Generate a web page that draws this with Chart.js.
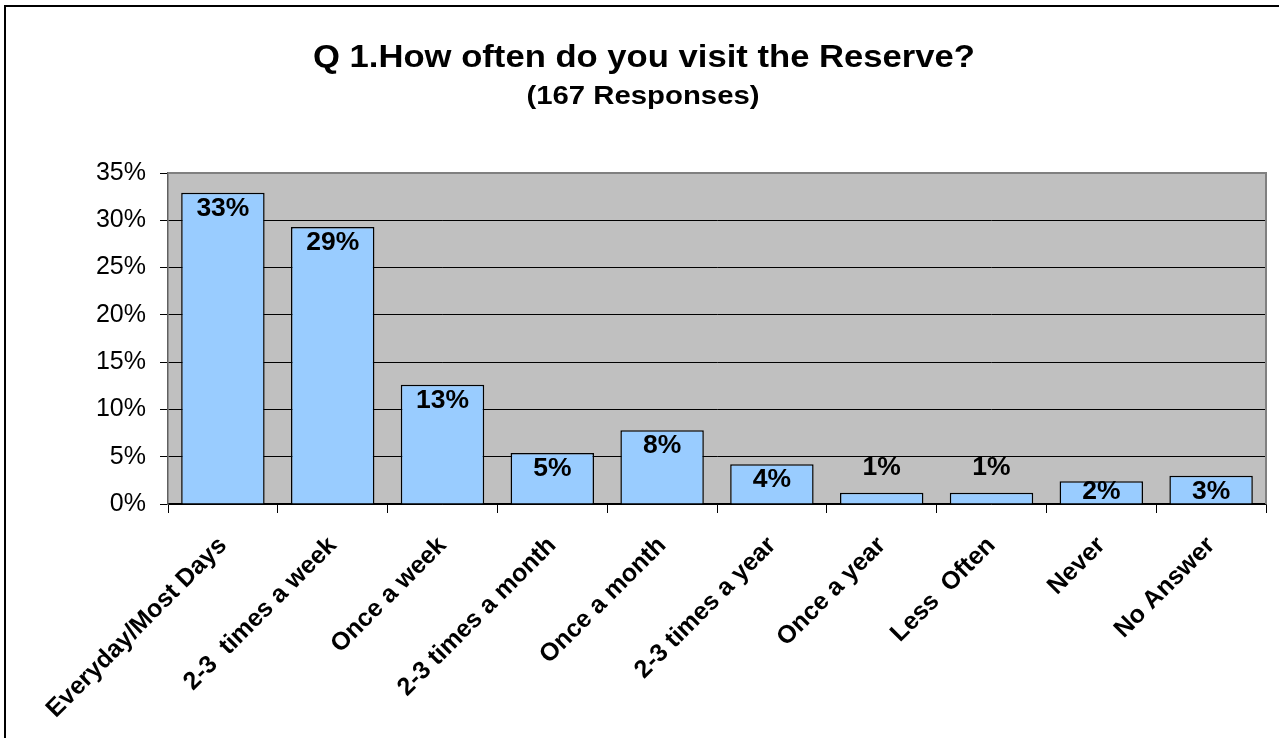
<!DOCTYPE html>
<html>
<head>
<meta charset="utf-8">
<script src="https://cdn.jsdelivr.net/npm/chart.js@4/dist/chart.umd.min.js"></script>
<style>
  html, body { margin: 0; padding: 0; background: #fff; }
</style>
</head>
<body>
<canvas id="c" width="1279" height="738"></canvas>
<script>
const titleText = "Q 1.How often do you visit the Reserve?";
const subtitleText = "(167 Responses)";
const categories = ["Everyday/Most Days", "2-3  times a week", "Once a week", "2-3 times a month", "Once a month", "2-3 times a year", "Once a year", "Less  Often", "Never", "No Answer"];
const percentages = [32.9, 29.3, 12.6, 5.4, 7.8, 4.2, 1.2, 1.2, 2.4, 3.0];
const yTicks = [0, 5, 10, 15, 20, 25, 30, 35];

const frame = {
  id: 'frame',
  beforeDraw(chart) {
    const ctx = chart.ctx, a = chart.chartArea;
    ctx.save();
    ctx.fillStyle = '#fff';
    ctx.fillRect(0, 0, chart.width, chart.height);
    ctx.fillStyle = '#C0C0C0';
    ctx.fillRect(a.left, a.top, a.right - a.left, a.bottom - a.top);
    ctx.restore();
  },
  afterDraw(chart) {
    const ctx = chart.ctx, a = chart.chartArea;
    ctx.save();
    ctx.strokeStyle = '#000';
    ctx.lineWidth = 2;
    ctx.strokeRect(5, 6, 1400, 1000);
    ctx.strokeStyle = '#808080';
    ctx.lineWidth = 2;
    ctx.beginPath();
    ctx.moveTo(a.left, a.top);
    ctx.lineTo(a.right, a.top);
    ctx.lineTo(a.right, a.bottom);
    ctx.stroke();
    ctx.fillStyle = '#000';
    ctx.textAlign = 'center';
    ctx.textBaseline = 'middle';
    const drawFit = (txt, font, cx, cy, w) => {
      ctx.font = font;
      const m = ctx.measureText(txt).width;
      ctx.save();
      ctx.translate(cx, cy);
      ctx.scale(w / m, 1);
      ctx.fillText(txt, 0, 0);
      ctx.restore();
    };
    drawFit(titleText, 'bold 31px "Liberation Sans", Arial, sans-serif', 644, 58, 662);
    drawFit(subtitleText, 'bold 25px "Liberation Sans", Arial, sans-serif', 643, 97, 233);
    ctx.restore();
  }
};

const labels = {
  id: 'labels',
  afterDatasetsDraw(chart) {
    const ctx = chart.ctx;
    const meta = chart.getDatasetMeta(0);
    ctx.save();
    ctx.fillStyle = '#000';
    ctx.font = 'bold 25px "Liberation Sans", Arial, sans-serif';
    ctx.textAlign = 'center';
    ctx.textBaseline = 'middle';
    meta.data.forEach((bar, i) => {
      const v = percentages[i];
      const txt = Math.round(v) + '%';
      const h = bar.base - bar.y;
      let y;
      if (h < 16) y = bar.y - 25;
      else y = Math.min(bar.y + 16, bar.base - 11);
      ctx.save();
      ctx.translate(bar.x, y);
      ctx.scale(1.06, 1);
      ctx.fillText(txt, 0, 0);
      ctx.restore();
    });
    ctx.restore();
  }
};

new Chart(document.getElementById('c'), {
  type: 'bar',
  data: {
    labels: categories,
    datasets: [{
      data: percentages,
      backgroundColor: '#99CCFF',
      borderColor: '#000',
      borderWidth: 1.5,
      categoryPercentage: 1,
      barPercentage: 0.76
    }]
  },
  options: {
    responsive: false,
    animation: false,
    layout: { padding: { left: 0, right: 13, top: 173, bottom: 0 } },
    plugins: { legend: { display: false }, tooltip: { enabled: false } },
    scales: {
      x: {
        afterFit(s) { s.height = 234; s.paddingLeft = 0; s.paddingRight = 0; },
        grid: { offset: true, drawOnChartArea: false, color: '#000', tickLength: 9, lineWidth: 1 },
        border: { color: '#000', width: 1.5 },
        ticks: {
          color: '#000',
          minRotation: 45, maxRotation: 45,
          autoSkip: false,
          padding: 18,
          font: { family: '"Liberation Sans", Arial, sans-serif', size: 25, weight: 'bold' }
        }
      },
      y: {
        min: 0, max: 35,
        afterFit(s) { s.width = 168; },
        afterBuildTicks(s) { s.ticks = yTicks.map(v => ({ value: v })); },
        grid: { color: '#000', lineWidth: 1, tickLength: 8 },
        border: { color: '#606060', width: 1.5 },
        ticks: {
          color: '#000',
          padding: 14,
          callback: v => v + '%',
          font: { family: '"Liberation Sans", Arial, sans-serif', size: 25 }
        }
      }
    }
  },
  plugins: [frame, labels]
});
</script>
</body>
</html>
